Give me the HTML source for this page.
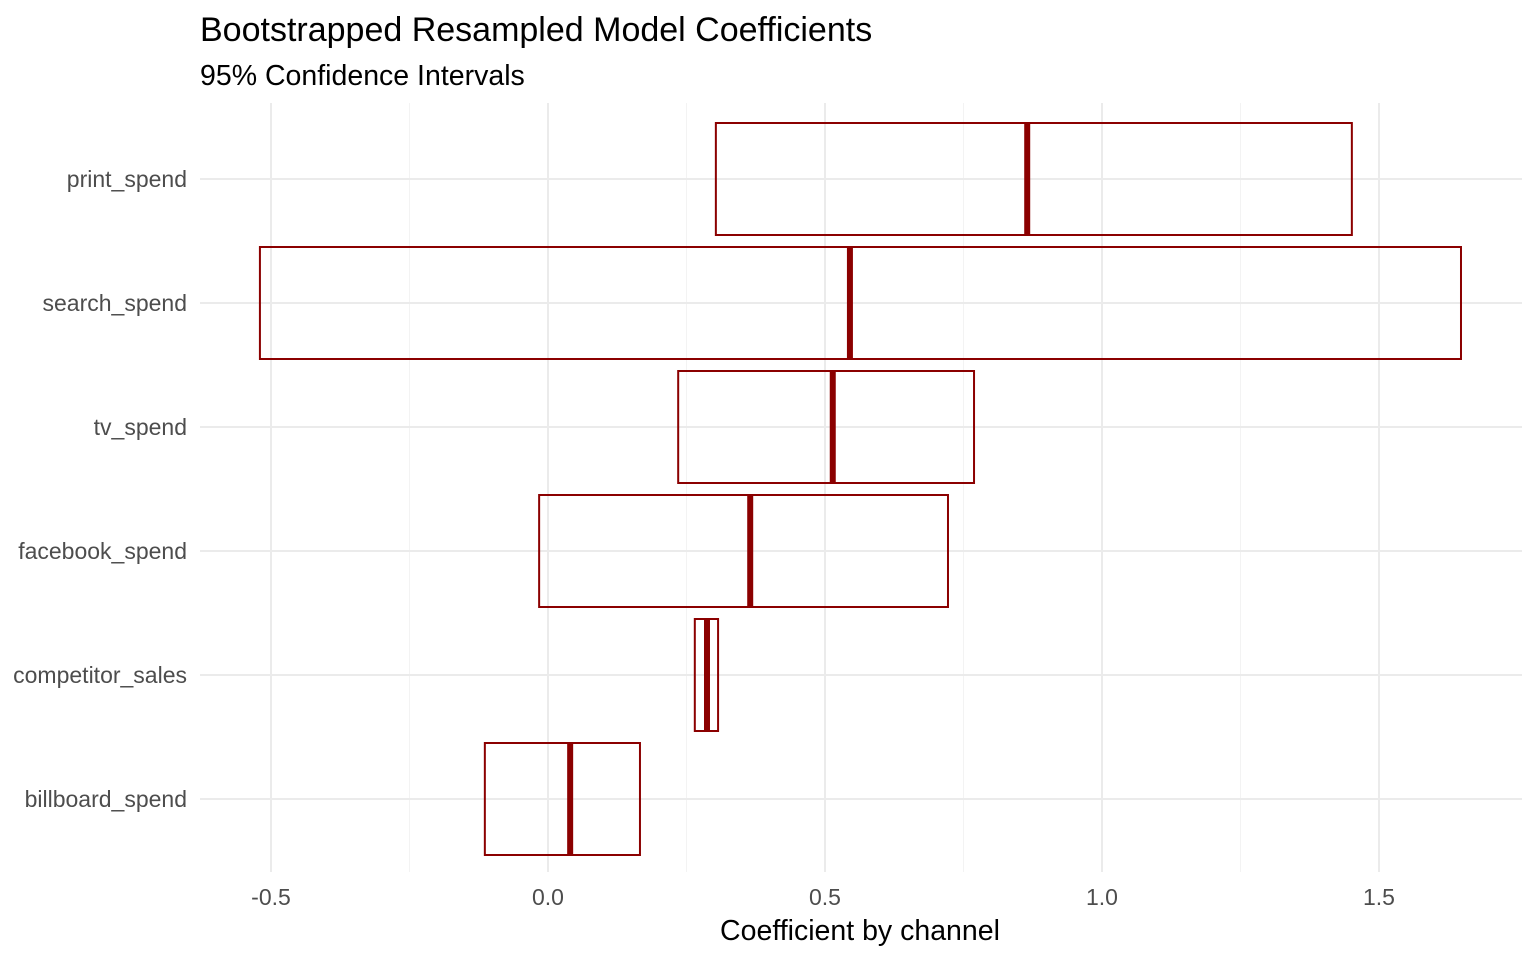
<!DOCTYPE html>
<html><head><meta charset="utf-8"><style>
body{margin:0;background:#fff;font-family:"Liberation Sans",Arial,sans-serif}
svg text{font-family:"Liberation Sans",Arial,sans-serif}
</style></head><body>
<svg id="c" width="1536" height="960">
<g id="grid"></g><g id="marks"></g><g id="labels"></g>
<text x="200" y="41" font-size="34" fill="#000">Bootstrapped Resampled Model Coefficients</text>
<text x="200" y="85" font-size="28.5" fill="#000">95% Confidence Intervals</text>
<text x="860" y="940" font-size="28.5" text-anchor="middle" fill="#000">Coefficient by channel</text>
</svg>
<script>
const categories=["print_spend","search_spend","tv_spend","facebook_spend","competitor_sales","billboard_spend"];
const lower=[0.303,-0.520,0.235,-0.016,0.265,-0.114];
const upper=[1.451,1.648,0.769,0.722,0.307,0.166];
const estimate=[0.865,0.545,0.514,0.365,0.287,0.040];
const xTicks=[-0.5,0,0.5,1,1.5];
const xTickLabels=["-0.5","0.0","0.5","1.0","1.5"];
const minorTicks=[-0.25,0.25,0.75,1.25];
const NS="http://www.w3.org/2000/svg";
const X=v=>548+v*554;
const Y=i=>179+i*124;
const panelTop=103,panelBot=872,panelLeft=200,panelRight=1522;
function mk(t,a,p){const e=document.createElementNS(NS,t);for(const k in a)e.setAttribute(k,a[k]);p.appendChild(e);return e;}
const g=document.getElementById('grid'),m=document.getElementById('marks'),lb=document.getElementById('labels');
minorTicks.forEach(v=>{const l=mk('line',{x1:X(v),x2:X(v),y1:panelTop,y2:panelBot,stroke:'#f3f3f3','stroke-width':1},g);

});
xTicks.forEach((v,i)=>{const l=mk('line',{x1:X(v),x2:X(v),y1:panelTop,y2:panelBot,stroke:'#ebebeb','stroke-width':2},g);


const t=mk('text',{x:X(v),y:905,'font-size':23,fill:'#4d4d4d','text-anchor':'middle'},lb);t.textContent=xTickLabels[i];

});
categories.forEach((c,i)=>{const l=mk('line',{x1:panelLeft,x2:panelRight,y1:Y(i),y2:Y(i),stroke:'#ebebeb','stroke-width':2},g);


const t=mk('text',{x:187,y:Y(i)+8,'font-size':23,fill:'#4d4d4d','text-anchor':'end'},lb);t.textContent=c;


const r=mk('rect',{x:X(lower[i]),y:Y(i)-56,width:X(upper[i])-X(lower[i]),height:112,fill:'none',stroke:'#8b0000','stroke-width':2},m);


const e=mk('line',{x1:X(estimate[i]),x2:X(estimate[i]),y1:Y(i)-56,y2:Y(i)+56,stroke:'#8b0000','stroke-width':6},m);

});
</script>
</body></html>
